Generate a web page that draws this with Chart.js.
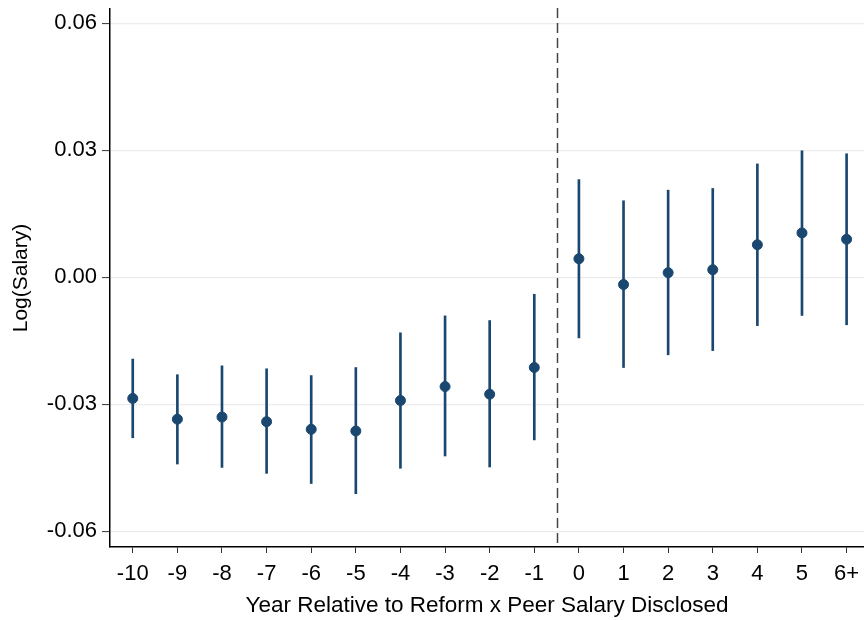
<!DOCTYPE html>
<html>
<head>
<meta charset="utf-8">
<script src="https://cdn.jsdelivr.net/npm/chart.js@4.4.1/dist/chart.umd.min.js"></script>
<style>
  html, body { margin: 0; padding: 0; background: #ffffff; }
  #wrap { width: 864px; height: 620px; position: relative; }
</style>
</head>
<body>
<div id="wrap"><canvas id="c" width="864" height="620"></canvas></div>
<script>
// Categories (event time relative to reform) and their tick labels
const years = [-10, -9, -8, -7, -6, -5, -4, -3, -2, -1, 0, 1, 2, 3, 4, 5, 6];
const categories = ['-10', '-9', '-8', '-7', '-6', '-5', '-4', '-3', '-2', '-1', '0', '1', '2', '3', '4', '5', '6+'];
// Point estimates
const estimates = [-0.0286, -0.0335, -0.0330, -0.0341, -0.0359, -0.0363, -0.0291, -0.0258, -0.0276, -0.0213,
                   0.0044, -0.0017, 0.0011, 0.0018, 0.0077, 0.0105, 0.0090];
// Confidence interval bounds
const ciLow = [-0.0379, -0.0441, -0.0449, -0.0463, -0.0487, -0.0511, -0.0451, -0.0422, -0.0448, -0.0384,
               -0.0143, -0.0213, -0.0183, -0.0173, -0.0114, -0.0090, -0.0112];
const ciHigh = [-0.0193, -0.0230, -0.0209, -0.0216, -0.0232, -0.0213, -0.0131, -0.0091, -0.0102, -0.0040,
                0.0231, 0.0181, 0.0206, 0.0210, 0.0268, 0.0299, 0.0292];
// Y-axis tick values
const yTicks = [-0.06, -0.03, 0.00, 0.03, 0.06];
// Reform cutoff (between -1 and 0)
const reformLine = -0.5;

const navy = '#1a476f';
const FONT = "'Liberation Sans', Arial, Helvetica, sans-serif";

const refLine = {
  id: 'refLine',
  beforeDatasetsDraw(chart) {
    const {ctx, chartArea, scales} = chart;
    const x = Math.round(scales.x.getPixelForValue(reformLine)) + 0.5;
    ctx.save();
    ctx.strokeStyle = '#444444';
    ctx.lineWidth = 1.5;
    ctx.setLineDash([10, 5]);
    ctx.beginPath();
    ctx.moveTo(x, chartArea.top - 1);
    ctx.lineTo(x, chartArea.bottom);
    ctx.stroke();
    ctx.restore();
  }
};

new Chart(document.getElementById('c'), {
  type: 'bar',
  data: {
    datasets: [
      {
        type: 'bar',
        label: 'CI',
        data: years.map((y, i) => ({x: y, y: [ciLow[i], ciHigh[i]]})),
        backgroundColor: navy,
        borderWidth: 0,
        barThickness: 2,
        order: 2
      },
      {
        type: 'scatter',
        label: 'Estimate',
        data: years.map((y, i) => ({x: y, y: estimates[i]})),
        backgroundColor: navy,
        borderColor: navy,
        pointRadius: 5,
        pointHoverRadius: 5,
        order: 1
      }
    ]
  },
  options: {
    responsive: false,
    animation: false,
    events: [],
    layout: { autoPadding: false, padding: { top: 9, right: 0, left: 0, bottom: 0 } },
    plugins: { legend: { display: false }, tooltip: { enabled: false } },
    scales: {
      x: {
        type: 'linear',
        offset: false,
        min: -10.51,
        max: 6.39,
        afterBuildTicks(scale) { scale.ticks = years.map(v => ({value: v})); },
        afterFit(scale) { scale.height = 73; scale.paddingLeft = 0; scale.paddingRight = 0; },
        grid: { display: true, drawOnChartArea: false, offset: false, drawTicks: true, tickLength: 6, tickColor: '#333333', tickWidth: 1 },
        border: { display: true, color: '#000000', width: 1.5 },
        ticks: {
          autoSkip: false,
          maxRotation: 0,
          padding: 8,
          color: '#000000',
          font: { family: FONT, size: 22 },
          callback(v) { const i = years.indexOf(v); return i >= 0 ? categories[i] : ''; }
        },
        title: {
          display: true,
          text: 'Year Relative to Reform x Peer Salary Disclosed',
          color: '#000000',
          font: { family: FONT, size: 22.5 },
          padding: { top: 0, bottom: 1 }
        }
      },
      y: {
        type: 'linear',
        min: -0.0637,
        max: 0.0634,
        afterBuildTicks(scale) { scale.ticks = yTicks.map(v => ({value: v})); },
        afterFit(scale) { scale.width = 110; scale.paddingTop = 0; scale.paddingBottom = 0; },
        grid: { display: true, drawOnChartArea: true, color: '#ececec', lineWidth: 1.2, drawTicks: true, tickLength: 8, tickColor: '#333333', tickWidth: 1 },
        border: { display: true, color: '#000000', width: 1.5 },
        ticks: {
          padding: 5,
          color: '#000000',
          font: { family: FONT, size: 22 },
          callback(v) { return v.toFixed(2); }
        },
        title: {
          display: true,
          text: 'Log(Salary)',
          color: '#000000',
          font: { family: FONT, size: 21 },
          padding: { top: 9, bottom: 0 }
        }
      }
    }
  },
  plugins: [refLine]
});
</script>
</body>
</html>
